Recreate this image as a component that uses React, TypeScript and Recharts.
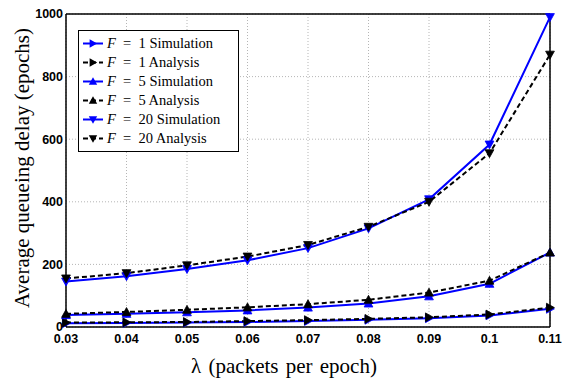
import React from 'react';
import { LineChart, Line, XAxis, YAxis, CartesianGrid, ReferenceLine, Legend } from 'recharts';

const lambdas = [0.03, 0.04, 0.05, 0.06, 0.07, 0.08, 0.09, 0.1, 0.11];
const xTicks = [0.03, 0.04, 0.05, 0.06, 0.07, 0.08, 0.09, 0.1, 0.11];
const yTicks = [0, 200, 400, 600, 800, 1000];
const f1Sim = [12, 13, 14, 16, 19, 23, 28, 37, 58];
const f1Ana = [14, 15, 16, 19, 22, 26, 31, 40, 62];
const f5Sim = [38, 42, 47, 53, 62, 75, 98, 138, 238];
const f5Ana = [42, 48, 55, 63, 73, 87, 110, 148, 238];
const f20Sim = [145, 162, 185, 213, 252, 315, 408, 583, 990];
const f20Ana = [155, 172, 197, 225, 262, 320, 400, 555, 870];

const data = lambdas.map((x, i) => ({
  x,
  f1Sim: f1Sim[i],
  f1Ana: f1Ana[i],
  f5Sim: f5Sim[i],
  f5Ana: f5Ana[i],
  f20Sim: f20Sim[i],
  f20Ana: f20Ana[i],
}));

const SERIF = "'Liberation Serif', 'Times New Roman', Times, 'DejaVu Serif', serif";
const SANS = "'Liberation Sans', Arial, Helvetica, sans-serif";

type Dir = 'right' | 'up' | 'down';

function triPoints(dir: Dir, cx: number, cy: number, r: number) {
  if (dir === 'right') return `${cx + r},${cy} ${cx - r * 0.8},${cy - r} ${cx - r * 0.8},${cy + r}`;
  if (dir === 'up') return `${cx},${cy - r} ${cx - r},${cy + r * 0.8} ${cx + r},${cy + r * 0.8}`;
  return `${cx},${cy + r} ${cx - r},${cy - r * 0.8} ${cx + r},${cy - r * 0.8}`;
}

const makeDot = (dir: Dir, color: string) => (p: any) => {
  if (p.cx == null || p.cy == null) return <g key={p.index} />;
  return <polygon key={p.index} points={triPoints(dir, p.cx, p.cy, 4.4)} fill={color} stroke={color} strokeWidth={0.8} />;
};

const series = [
  { key: 'f1Sim', label: '1', kind: 'Simulation', dir: 'right' as Dir, color: '#0000ff', dash: undefined },
  { key: 'f1Ana', label: '1', kind: 'Analysis', dir: 'right' as Dir, color: '#000000', dash: '5 3' },
  { key: 'f5Sim', label: '5', kind: 'Simulation', dir: 'up' as Dir, color: '#0000ff', dash: undefined },
  { key: 'f5Ana', label: '5', kind: 'Analysis', dir: 'up' as Dir, color: '#000000', dash: '5 3' },
  { key: 'f20Sim', label: '20', kind: 'Simulation', dir: 'down' as Dir, color: '#0000ff', dash: undefined },
  { key: 'f20Ana', label: '20', kind: 'Analysis', dir: 'down' as Dir, color: '#000000', dash: '5 3' },
];

const LegendBox = () => (
  <div
    style={{
      border: '1px solid #000',
      background: '#fff',
      width: 159,
      height: 117,
      boxSizing: 'content-box',
      paddingTop: 3,
      fontFamily: SERIF,
      fontSize: 14.5,
      color: '#000',
    }}
  >
    {series.map((s) => (
      <div key={s.key} style={{ height: 19, display: 'flex', alignItems: 'center' }}>
        <svg width={26} height={19} style={{ marginLeft: 2, flex: 'none' }}>
          <line x1={2} y1={9.5} x2={22} y2={9.5} stroke={s.color} strokeWidth={2} strokeDasharray={s.dash} />
          <polygon points={triPoints(s.dir, 12, 9.5, 4.2)} fill={s.color} />
        </svg>
        <span style={{ whiteSpace: 'pre', marginLeft: 0 }}>
          <i>F</i>
          {'\u2002=\u2002' + s.label + ' ' + s.kind}
        </span>
      </div>
    ))}
  </div>
);

const tickStyle = { fontFamily: SANS, fontWeight: 700, fontSize: 12.5, fill: '#000' };

export default function App() {
  return (
    <div style={{ position: 'absolute', left: 0, top: 0, width: 563, height: 384, background: '#fff' }}>
      <LineChart width={563} height={384} data={data} margin={{ top: 14, right: 13, left: 0, bottom: 0 }}>
        <CartesianGrid stroke="#b5b5b5" strokeDasharray="1 2" />
        <XAxis
          dataKey="x"
          type="number"
          domain={[0.03, 0.11]}
          ticks={xTicks}
          tickFormatter={(v: number) => String(Math.round(v * 100) / 100)}
          tick={tickStyle}
          tickLine={false}
          tickSize={0}
          tickMargin={7}
          height={57}
          axisLine={{ stroke: '#000', strokeWidth: 1.5 }}
          interval={0}
          label={{
            content: () => (
              <text x={284} y={373} textAnchor="middle" style={{ fontFamily: SERIF, fontSize: 21, wordSpacing: 2 }} fill="#000">
                λ (packets per epoch)
              </text>
            ),
          }}
        />
        <YAxis
          type="number"
          domain={[0, 1000]}
          ticks={yTicks}
          tick={tickStyle}
          tickLine={false}
          tickSize={0}
          tickMargin={3}
          width={66}
          axisLine={{ stroke: '#000', strokeWidth: 1.5 }}
          interval={0}
          label={{
            content: () => (
              <text
                x={29}
                y={168}
                transform="rotate(-90, 29, 168)"
                textAnchor="middle"
                style={{ fontFamily: SERIF, fontSize: 21 }}
                fill="#000"
              >
                Average queueing delay (epochs)
              </text>
            ),
          }}
        />
        <ReferenceLine y={1000} stroke="#000" strokeWidth={1.5} />
        <ReferenceLine x={0.11} stroke="#000" strokeWidth={1.5} />
        {series.map((s) => (
          <Line
            key={s.key}
            dataKey={s.key}
            type="linear"
            stroke={s.color}
            strokeWidth={2}
            strokeDasharray={s.dash}
            dot={makeDot(s.dir, s.color)}
            activeDot={false}
            isAnimationActive={false}
          />
        ))}
        <Legend
          layout="vertical"
          align="center"
          verticalAlign="middle"
          content={() => <LegendBox />}
          wrapperStyle={{ position: 'absolute', left: 78, top: 30, width: 161, height: 121 }}
        />
      </LineChart>
    </div>
  );
}
